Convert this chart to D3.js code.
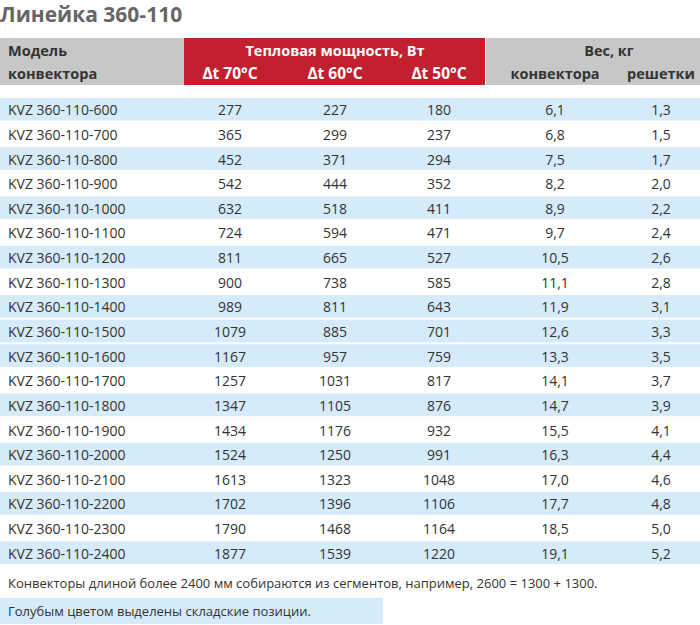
<!DOCTYPE html>
<html>
<head>
<meta charset="utf-8">
<script src="https://cdn.jsdelivr.net/npm/d3@7"></script>
<style>
  body { margin: 0; background: #fff; }
  svg { display: block; font-family: "Open Sans", "Noto Sans", sans-serif; }
</style>
</head>
<body>
<div id="chart"></div>
<script>
// Table values
const models = ["600", "700", "800", "900", "1000", "1100", "1200", "1300", "1400", "1500",
  "1600", "1700", "1800", "1900", "2000", "2100", "2200", "2300", "2400"].map(d => "KVZ 360-110-" + d);
const power70 = [277, 365, 452, 542, 632, 724, 811, 900, 989, 1079, 1167, 1257, 1347, 1434, 1524, 1613, 1702, 1790, 1877];
const power60 = [227, 299, 371, 444, 518, 594, 665, 738, 811, 885, 957, 1031, 1105, 1176, 1250, 1323, 1396, 1468, 1539];
const power50 = [180, 237, 294, 352, 411, 471, 527, 585, 643, 701, 759, 817, 876, 932, 991, 1048, 1106, 1164, 1220];
const weightConv = ["6,1", "6,8", "7,5", "8,2", "8,9", "9,7", "10,5", "11,1", "11,9", "12,6", "13,3", "14,1", "14,7", "15,5", "16,3", "17,0", "17,7", "18,5", "19,1"];
const weightGrille = ["1,3", "1,5", "1,7", "2,0", "2,2", "2,4", "2,6", "2,8", "3,1", "3,3", "3,5", "3,7", "3,9", "4,1", "4,4", "4,6", "4,8", "5,0", "5,2"];
// rows on stock (highlighted in blue)
const inStock = [true, false, true, false, true, false, true, false, true, true,
  true, false, true, false, true, false, true, false, true];

const title = "Линейка 360-110";
const powerHeader = "Тепловая мощность, Вт";
const powerCols = ["Δt 70°C", "Δt 60°C", "Δt 50°C"];
const weightHeader = "Вес, кг";
const weightCols = ["конвектора", "решетки"];
const note1 = "Конвекторы длиной более 2400 мм собираются из сегментов, например, 2600 = 1300 + 1300.";
const note2 = "Голубым цветом выделены складские позиции.";

const W = 700, H = 625;
const red = "#c3202f", gray = "#c7c7c7", blue = "#d5ebf9", ink = "#333";

const svg = d3.select("#chart")
  .append("svg")
  .attr("width", W)
  .attr("height", H);

const rows = models.map((m, i) => ({
  model: m,
  stock: inStock[i],
  cells: [power70[i], power60[i], power50[i], weightConv[i], weightGrille[i]]
}));

// Row positions
const y = d3.scaleBand()
  .domain(d3.range(rows.length))
  .range([98, 564])
  .paddingInner(0.08);

// Column centers
const colKeys = ["p70", "p60", "p50", "wc", "wg"];
const x = d3.scaleOrdinal()
  .domain(colKeys)
  .range([230, 335, 439, 555, 661]);

// Title
svg.append("text")
  .attr("x", 0)
  .attr("y", 22)
  .attr("fill", "#666")
  .attr("font-size", "21px")
  .attr("font-weight", "bold")
  .text(title);

// Header blocks
svg.append("rect").attr("x", 0).attr("y", 38).attr("width", 184).attr("height", 47).attr("fill", gray);
svg.append("rect").attr("x", 184).attr("y", 38).attr("width", 301).attr("height", 47).attr("fill", red);
svg.append("rect").attr("x", 486).attr("y", 38).attr("width", 214).attr("height", 47).attr("fill", gray);

const header = svg.append("g")
  .attr("font-size", "14.5px")
  .attr("font-weight", "bold");

header.append("text").attr("x", 8).attr("y", 56).attr("fill", ink).text("Модель");
header.append("text").attr("x", 8).attr("y", 79).attr("fill", ink).text("конвектора");

header.append("text")
  .attr("x", 335).attr("y", 56)
  .attr("text-anchor", "middle")
  .attr("fill", "#fff")
  .text(powerHeader);

header.selectAll(".pcol")
  .data(powerCols)
  .enter()
  .append("text")
  .attr("x", (d, i) => x(colKeys[i]))
  .attr("y", 79)
  .attr("text-anchor", "middle")
  .attr("font-size", "15.5px")
  .attr("fill", "#fff")
  .text(d => d);

header.append("text")
  .attr("x", 609).attr("y", 56)
  .attr("text-anchor", "middle")
  .attr("fill", ink)
  .text(weightHeader);

header.selectAll(".wcol")
  .data(weightCols)
  .enter()
  .append("text")
  .attr("x", (d, i) => x(colKeys[i + 3]))
  .attr("y", 79)
  .attr("text-anchor", "middle")
  .attr("fill", ink)
  .text(d => d);

// Body rows
const row = svg.append("g")
  .selectAll("g")
  .data(rows)
  .enter()
  .append("g")
  .attr("transform", (d, i) => `translate(0,${y(i)})`);

row.append("rect")
  .attr("x", 0)
  .attr("width", W)
  .attr("height", y.bandwidth())
  .attr("fill", d => d.stock ? blue : "#fff");

row.append("text")
  .attr("x", 8)
  .attr("y", y.bandwidth() / 2 + 6)
  .attr("font-size", "14px")
  .attr("fill", ink)
  .text(d => d.model);

row.selectAll(".cell")
  .data(d => d.cells)
  .enter()
  .append("text")
  .attr("x", (d, i) => x(colKeys[i]))
  .attr("y", y.bandwidth() / 2 + 6)
  .attr("text-anchor", "middle")
  .attr("font-size", "14px")
  .attr("fill", ink)
  .text(d => d);

// Notes
svg.append("text")
  .attr("x", 8)
  .attr("y", 588)
  .attr("font-size", "13px")
  .attr("fill", ink)
  .text(note1);

svg.append("rect")
  .attr("x", 0).attr("y", 598)
  .attr("width", 383).attr("height", 26)
  .attr("fill", blue);

svg.append("text")
  .attr("x", 8)
  .attr("y", 616)
  .attr("font-size", "13px")
  .attr("fill", ink)
  .text(note2);
</script>
</body>
</html>
